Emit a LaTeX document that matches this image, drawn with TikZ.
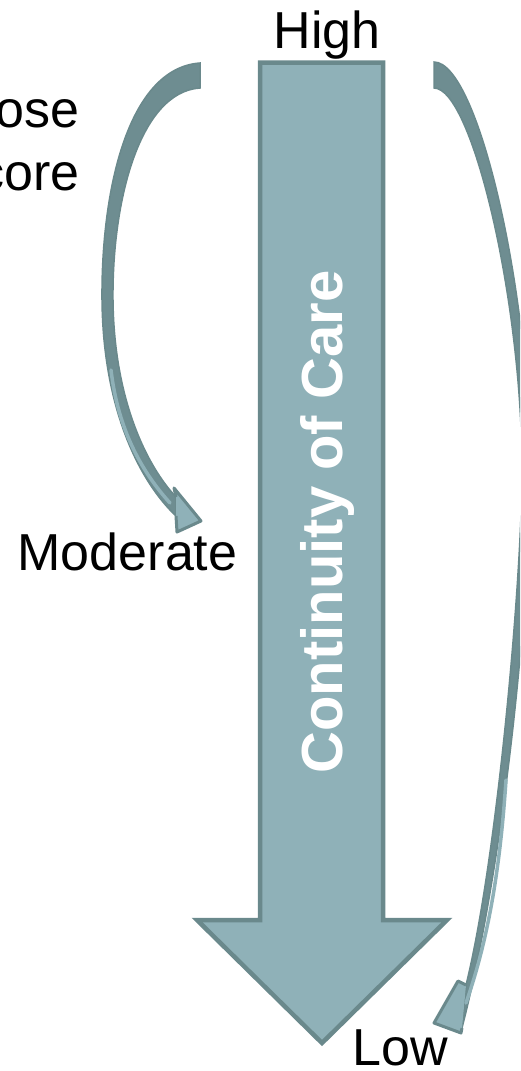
\documentclass[tikz,border=0pt]{standalone}
\usepackage{fontspec}
\setmainfont{Liberation Sans}
\definecolor{arrowfill}{HTML}{8FB1B8}
\definecolor{arrowline}{HTML}{6A898C}
\definecolor{bandfill}{HTML}{6E8D91}
\tikzset{
  level text/.style={font=\fontsize{52}{60}\selectfont, inner sep=0pt},
  band/.style={fill=bandfill, draw=arrowline, line width=1.5pt},
  band face/.style={draw=arrowfill, line width=3.5pt, line cap=round},
  head/.style={fill=arrowfill, draw=arrowline, line width=3pt, line join=round},
}

\begin{document}
\begin{tikzpicture}[x=1pt,y=-1pt]
\clip (0,0) rectangle (520,1071);

% main arrow
\draw[fill=arrowfill, draw=arrowline, line width=4.5pt, line join=miter]
  (260,62.5) -- (383,62.5) -- (383,920) -- (447,920) -- (322,1043)
  -- (197,920) -- (260,920) -- cycle;
\node[rotate=90, anchor=base, text=white, inner sep=0pt,
  font=\fontsize{58}{66}\selectfont\bfseries] (care) at (342,522) {Continuity of Care};

% left curved arrow
\draw[band] (200,63) .. controls (128,68) and (101,190) .. (102,300)
  .. controls (103,410) and (140,482) .. (176,516)
  -- (176,497) .. controls (147,466) and (114,400) .. (113,300)
  .. controls (112,200) and (140,92) .. (200,88) -- cycle;
\draw[band face] (111,370) .. controls (118,430) and (142,472) .. (170,503);
\draw[head] (176,497) -- (174,488) -- (201,521) -- (177,532) -- (176,516);

% right curved arrow
\draw[band] (434,62) .. controls (478,62) and (530,290) .. (530,470)
  .. controls (530,600) and (505,860) .. (462,1028)
  -- (466,985) .. controls (497,860) and (522,580) .. (522,470)
  .. controls (522,300) and (472,88) .. (434,88) -- cycle;
\draw[band face] (506,780) .. controls (500,870) and (488,940) .. (466,1003);
\draw[head] (466,985) -- (458,981) -- (434,1023) -- (461,1033) -- (462,1028);

% labels
\node[level text, anchor=base] (high) at (327,48) {High};
\node[level text, anchor=base] (moderate) at (127.5,570) {Moderate};
\node[level text, anchor=base] (low) at (400,1065) {Low};
\node[level text, anchor=base east] (ose) at (80,127) {ose};
\node[level text, anchor=base east] (core) at (80,190) {core};
\end{tikzpicture}
\end{document}
